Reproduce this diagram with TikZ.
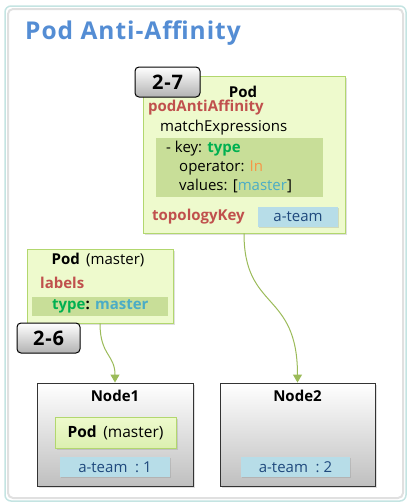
\documentclass[tikz,border=0pt]{standalone}
\usepackage{fontspec}
\setmainfont{Open Sans}
\usepackage{tikz}
\usetikzlibrary{arrows.meta,shadows}
\usepackage{xcolor}
\definecolor{kbtitle}{RGB}{84,141,212}
\definecolor{kbframe}{RGB}{196,228,226}
\definecolor{kbpodfill}{RGB}{238,250,205}
\definecolor{kbpodline}{RGB}{178,215,110}
\definecolor{kbband}{RGB}{200,222,152}
\definecolor{kbteam}{RGB}{183,221,232}
\definecolor{kbteamtext}{RGB}{31,73,125}
\definecolor{kbred}{RGB}{192,80,77}
\definecolor{kbgreen}{RGB}{0,176,80}
\definecolor{kborange}{RGB}{247,150,70}
\definecolor{kbcyan}{RGB}{75,172,198}
\definecolor{kbarrow}{RGB}{155,187,89}
\tikzstyle{arrow} = [line width=1pt,-{Triangle[width=9pt,length=8pt]},color=kbarrow]
\tikzset{
  podbox/.style={rectangle, draw=kbpodline, fill=kbpodfill, line width=0.8pt,
    drop shadow={shadow xshift=1.5pt, shadow yshift=-1.5pt, opacity=0.25}},
  band/.style={rectangle, fill=kbband, inner sep=0pt},
  teambox/.style={rectangle, fill=kbteam, text=kbteamtext, font=\fontsize{15}{17}\selectfont,
    drop shadow={shadow xshift=1.2pt, shadow yshift=-1.2pt, opacity=0.25}},
  nodebox/.style={rectangle, draw=black!80, line width=0.9pt, top color=white, bottom color=black!25,
    drop shadow={shadow xshift=1.5pt, shadow yshift=-1.5pt, opacity=0.25}},
  tabbox/.style={rectangle, rounded corners=4pt, draw=black, line width=1pt, top color=white,
    bottom color=black!30, font=\fontsize{20}{22}\selectfont\bfseries\addfontfeature{LetterSpace=4}},
  txt/.style={inner sep=0pt, anchor=west, font=\fontsize{15}{17}\selectfont}
}
\begin{document}
\begin{tikzpicture}[x=1pt, y=-1pt]
    \useasboundingbox (0,0) rectangle (410,504);
    % Frame
    \draw[kbframe, line width=1.5pt, rounded corners=6pt] (5,6) rectangle (406,501);
    \draw[black!12, line width=2pt, rounded corners=5pt] (8,9) rectangle (403,498);

    % Title
    \node[txt, text=kbtitle, font=\fontsize{24.5}{27}\selectfont\bfseries\addfontfeature{LetterSpace=4}] (title) at (25,33) {Pod Anti-Affinity};

    % Pod 2-7
    \node[podbox, minimum width=202pt, minimum height=157pt] (pod27) at (244,154.5) {};
    \node[txt, anchor=center, font=\fontsize{15}{17}\selectfont\bfseries] (p27head) at (243,92) {Pod};
    \node[txt, text=kbred, font=\fontsize{15}{17}\selectfont\bfseries] (anti) at (148,108) {podAntiAffinity};
    \node[txt] (match) at (160,128) {matchExpressions};
    \node[band, minimum width=167pt, minimum height=59pt] (expr) at (239.5,167.5) {};
    \node[txt] (key) at (166,149) {- key: \textbf{\textcolor{kbgreen}{type}}};
    \node[txt] (oper) at (179,168) {operator: \textcolor{kborange}{In}};
    \node[txt] (vals) at (179,186) {values: [\textcolor{kbcyan}{master}]};
    \node[txt, text=kbred, font=\fontsize{15}{17}\selectfont\bfseries] (topo) at (152,217) {topologyKey};
    \node[teambox, minimum width=80pt, minimum height=20pt, inner sep=0pt] (team27) at (298,217) {a-team};
    \node[tabbox, minimum width=65pt, minimum height=30pt] (tab27) at (167.5,82) {2-7};

    % Pod 2-6
    \node[podbox, minimum width=146pt, minimum height=74pt] (pod26) at (100,286) {};
    \node[txt, anchor=center] (p26head) at (98,260) {\textbf{Pod}\ \,(master)};
    \node[txt, text=kbred, font=\fontsize{15}{17}\selectfont\bfseries] (lbls) at (40,283) {labels};
    \node[band, minimum width=136pt, minimum height=19pt] (lband) at (100,306.5) {};
    \node[txt, font=\fontsize{15}{17}\selectfont\bfseries] (ltype) at (52,306.5) {\textcolor{kbgreen}{type}: \textcolor{kbcyan}{master}};
    \node[tabbox, minimum width=63pt, minimum height=30pt] (tab26) at (48.5,338) {2-6};

    % Node1
    \node[nodebox, minimum width=156pt, minimum height=103pt] (node1) at (115,434.5) {};
    \node[txt, anchor=center, font=\fontsize{15}{17}\selectfont\bfseries] (n1name) at (115,396) {Node1};
    \node[podbox, top color=kbpodfill, bottom color=kbpodfill!70!kbpodline, minimum width=121pt, minimum height=31pt, font=\fontsize{15.5}{17}\selectfont] (n1pod) at (115.5,432.5) {\textbf{Pod}\ \,(master)};
    \node[teambox, minimum width=110pt, minimum height=20pt, inner sep=0pt] (team1) at (115,467) {a-team\ \ :\ 1};

    % Node2
    \node[nodebox, minimum width=155pt, minimum height=103pt] (node2) at (297.5,434.5) {};
    \node[txt, anchor=center, font=\fontsize{15}{17}\selectfont\bfseries] (n2name) at (297.5,396) {Node2};
    \node[teambox, minimum width=109pt, minimum height=20pt, inner sep=0pt] (team2) at (295.5,467) {a-team\ \ :\ 2};

    % Arrows
    \draw[arrow] (pod26.south) .. controls +(0,32) and +(0,-28) .. (node1.north);
    \draw[arrow] (pod27.south) .. controls +(0,78) and +(0,-92) .. (node2.north);
\end{tikzpicture}
\end{document}
